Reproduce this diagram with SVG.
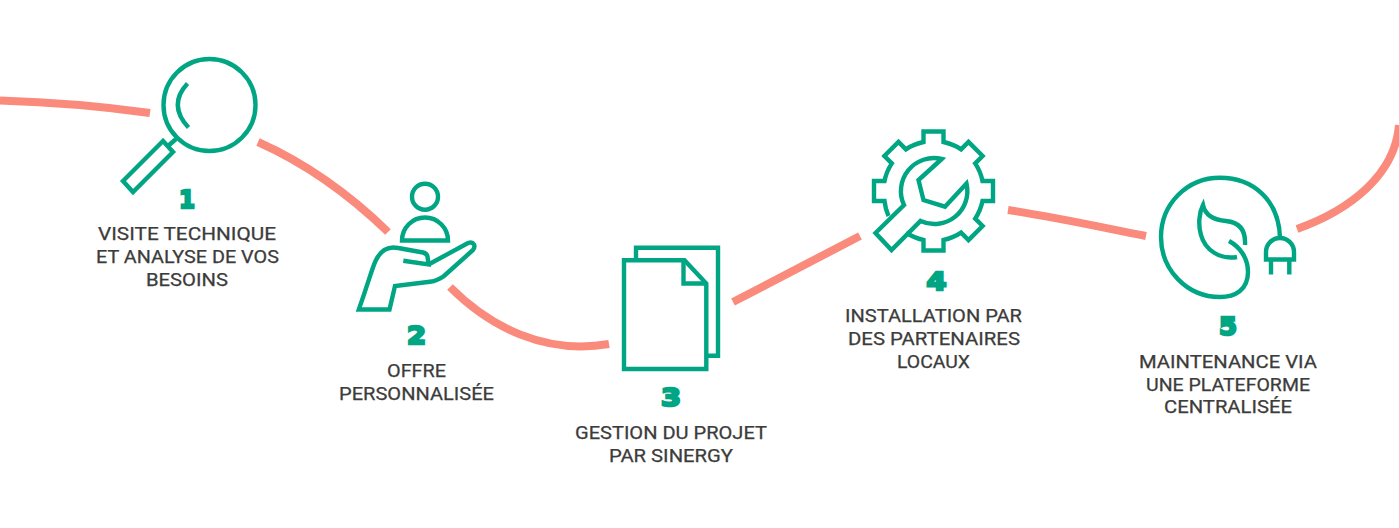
<svg xmlns="http://www.w3.org/2000/svg" width="1399" height="528" viewBox="0 0 1399 528">
<style>
.c{fill:none;stroke:#fa8a7c;stroke-width:8}
.i{fill:none;stroke:#00a583;stroke-width:4.4}
.t{font-family:"Roboto","Liberation Sans",sans-serif;font-size:18px;font-weight:400;fill:#3c3c3b;stroke:#3c3c3b;stroke-width:.25;text-anchor:middle}
.n{font-family:"DejaVu Sans","Liberation Sans",sans-serif;font-size:25px;font-weight:700;fill:#00a583;stroke:#00a583;stroke-width:2.4;text-anchor:middle}
</style>
<rect width="1399" height="528" fill="#fff"/>
<g id="connectors">
<path class="c" d="M0,100.500C50,102 100,106 150,113"/>
<path class="c" d="M258,142C305,163 350,195 388,232"/>
<path class="c" d="M450,287C490,327 545,355 609,344"/>
<path class="c" d="M733,302L860,236"/>
<path class="c" d="M1008,210C1055,217 1100,227 1146,236"/>
<path class="c" d="M1297,229C1350,210 1395,175 1399,125"/>
</g>
<g id="node1">
<circle class="i" cx="209.500" cy="105" r="46"/>
<path class="i" d="M187.500,83.500C175,97 174,112 188.500,127.500"/>
<path class="i" d="M176,139L168,146"/>
<path class="i" d="M163,141L123,181L133,192L173,152Z"/>
<text class="n" x="187" y="208" textLength="16" lengthAdjust="spacingAndGlyphs">1</text>
<text class="t" x="187" y="240" textLength="178" lengthAdjust="spacingAndGlyphs">VISITE TECHNIQUE</text>
<text class="t" x="187.500" y="263" textLength="183" lengthAdjust="spacingAndGlyphs">ET ANALYSE DE VOS</text>
<text class="t" x="187" y="286" textLength="82" lengthAdjust="spacingAndGlyphs">BESOINS</text>
</g>
<g id="node2">
<circle class="i" cx="425" cy="196.700" r="13"/>
<path class="i" d="M402,240.500A23,23 0 0 1 448,240.500Z"/>
<path class="i" d="M403.300,260.700L428.500,264.500L427.500,256.500C427,254 425,253 423,252.500L398.300,248C389,246 381,250 376,260C372,268 370,278 358.800,309.500H389.500L395,286L430,281.700C436,281 440,279 444,276L473,250C476,246 474,241 468,243L428.500,264.500"/>
<text class="n" x="416.500" y="344" textLength="19" lengthAdjust="spacingAndGlyphs">2</text>
<text class="t" x="416.500" y="377" textLength="59" lengthAdjust="spacingAndGlyphs">OFFRE</text>
<text class="t" x="416.500" y="400" textLength="155" lengthAdjust="spacingAndGlyphs">PERSONNALISÉE</text>
</g>
<g id="node3">
<path class="i" d="M636,260V247.700H718V355.700H707"/>
<path class="i" d="M624,260.300H684.500L706.300,283.500V369H624Z"/>
<path class="i" d="M683.500,260.300V283.500H706.300"/>
<text class="n" x="671" y="406" textLength="20" lengthAdjust="spacingAndGlyphs">3</text>
<text class="t" x="671" y="439" textLength="192" lengthAdjust="spacingAndGlyphs">GESTION DU PROJET</text>
<text class="t" x="671" y="462" textLength="124" lengthAdjust="spacingAndGlyphs">PAR SINERGY</text>
</g>
<g id="node4">
<path class="i" d="M888.500,216A50,50 0 0 1 884.500,201H874V181H884.500A50,50 0 0 1 891.800,163.400L884.400,156L898.500,141.900L905.900,149.300A50,50 0 0 1 923.500,142V131.500H943.500V142A50,50 0 0 1 961.100,149.300L968.500,141.900L982.600,156L975.200,163.400A50,50 0 0 1 982.500,181H993V201H982.500A50,50 0 0 1 975.200,218.600L982.600,226L968.500,240.100L961.100,232.700A50,50 0 0 1 943.500,240V250.500H923.500V240A50,50 0 0 1 906,232.700"/>
<path class="i" d="M941.700,159L918.500,180L923.500,200L945,206.700L966.500,183.500A33,33 0 0 1 920.500,221L891.500,250L875.500,233L904,205A33,33 0 0 1 941.700,159Z"/>
<text class="n" x="936.500" y="290" textLength="20" lengthAdjust="spacingAndGlyphs">4</text>
<text class="t" x="933.500" y="322" textLength="177" lengthAdjust="spacingAndGlyphs">INSTALLATION PAR</text>
<text class="t" x="934" y="345" textLength="172" lengthAdjust="spacingAndGlyphs">DES PARTENAIRES</text>
<text class="t" x="933.500" y="368" textLength="73" lengthAdjust="spacingAndGlyphs">LOCAUX</text>
</g>
<g id="node5">
<path class="i" d="M1280,238C1279,200 1253,177.700 1220,177.700C1187,177.700 1161,204 1161,237C1161,270 1187,297 1220,297C1235,297 1248,290 1248,272C1248,258 1240,247 1229,241"/>
<path class="i" d="M1245,245C1246,228 1237,222 1226,221C1213,220 1205,214 1203,205C1199,213 1198,225 1201,235C1205,250 1220,260 1237,257"/>
<path class="i" d="M1266,259.500V252A14,14 0 0 1 1294,252V259.500Z"/>
<path class="i" d="M1271,259.500V274.500M1289.300,259.500V274.500"/>
<text class="n" x="1228" y="335" textLength="18" lengthAdjust="spacingAndGlyphs">5</text>
<text class="t" x="1228" y="368" textLength="178" lengthAdjust="spacingAndGlyphs">MAINTENANCE VIA</text>
<text class="t" x="1228" y="391" textLength="164" lengthAdjust="spacingAndGlyphs">UNE PLATEFORME</text>
<text class="t" x="1228" y="413" textLength="128" lengthAdjust="spacingAndGlyphs">CENTRALISÉE</text>
</g>
</svg>
